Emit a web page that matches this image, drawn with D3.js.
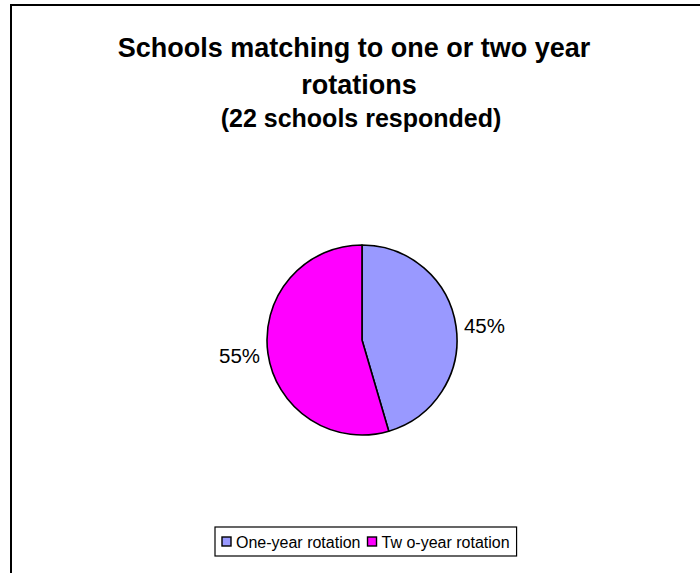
<!DOCTYPE html>
<html>
<head>
<meta charset="utf-8">
<script src="https://cdn.jsdelivr.net/npm/d3@7"></script>
<style>
  html, body { margin: 0; padding: 0; background: #fff; }
  svg { display: block; font-family: Arial, "Liberation Sans", sans-serif; }
</style>
</head>
<body>
<svg id="chart" width="700" height="573"></svg>
<script>
const categories = ["One-year rotation", "Two-year rotation"];
const legendLabels = ["One-year rotation", "Tw o-year rotation"];
const values = [10, 12];
const colors = ["#9999FF", "#FF00FF"];
const titleLines = ["Schools matching to one or two year", "rotations"];
const subtitle = "(22 schools responded)";

const svg = d3.select("#chart");

// outer frame (extends beyond viewport on right/bottom)
svg.append("rect")
  .attr("x", 11).attr("y", 5)
  .attr("width", 760).attr("height", 640)
  .attr("fill", "#fff").attr("stroke", "#000").attr("stroke-width", 2);

// titles
svg.append("text").attr("x", 354).attr("y", 57).attr("text-anchor", "middle")
  .attr("font-weight", "bold").attr("font-size", 27).text(titleLines[0]);
svg.append("text").attr("x", 359).attr("y", 94).attr("text-anchor", "middle")
  .attr("font-weight", "bold").attr("font-size", 27).text(titleLines[1]);
svg.append("text").attr("x", 361).attr("y", 127).attr("text-anchor", "middle")
  .attr("font-weight", "bold").attr("font-size", 25).text(subtitle);

// pie
const total = d3.sum(values);
const pie = d3.pie().sort(null).value(d => d)(values);
const r = 95;
const arc = d3.arc().innerRadius(0).outerRadius(r);
const g = svg.append("g").attr("transform", `translate(362,340)`);
g.selectAll("path").data(pie).join("path")
  .attr("d", arc)
  .attr("fill", (d, i) => colors[i])
  .attr("stroke", "#000").attr("stroke-width", 1.6).attr("stroke-linejoin", "round");

const fmt = d3.format(".0%");
const labelArc = d3.arc().innerRadius(r + 8).outerRadius(r + 8);
g.selectAll("text.lbl").data(pie).join("text")
  .attr("class", "lbl")
  .attr("x", d => labelArc.centroid(d)[0])
  .attr("y", d => labelArc.centroid(d)[1] + 8)
  .attr("text-anchor", d => ((d.startAngle + d.endAngle) / 2 < Math.PI ? "start" : "end"))
  .attr("font-size", 20.5).attr("fill", "#000")
  .text(d => fmt(d.data / total));

// legend
const lg = svg.append("g");
const box = lg.append("rect").attr("y", 527).attr("height", 29)
  .attr("fill", "#fff").attr("stroke", "#000").attr("stroke-width", 1.2);
const pad = 7, sq = 9, sqGap = 5, itemGap = 7;
let x = 215 + pad;
legendLabels.forEach((lab, i) => {
  lg.append("rect").attr("x", x).attr("y", 537).attr("width", sq).attr("height", sq)
    .attr("fill", colors[i]).attr("stroke", "#000").attr("stroke-width", 1.4);
  const t = lg.append("text").attr("x", x + sq + sqGap).attr("y", 547.5)
    .attr("font-size", 16).attr("fill", "#000").text(lab);
  x += sq + sqGap + t.node().getComputedTextLength() + itemGap;
});
const w = x - itemGap + pad - 215;
box.attr("x", 215).attr("width", w);
</script>
</body>
</html>
